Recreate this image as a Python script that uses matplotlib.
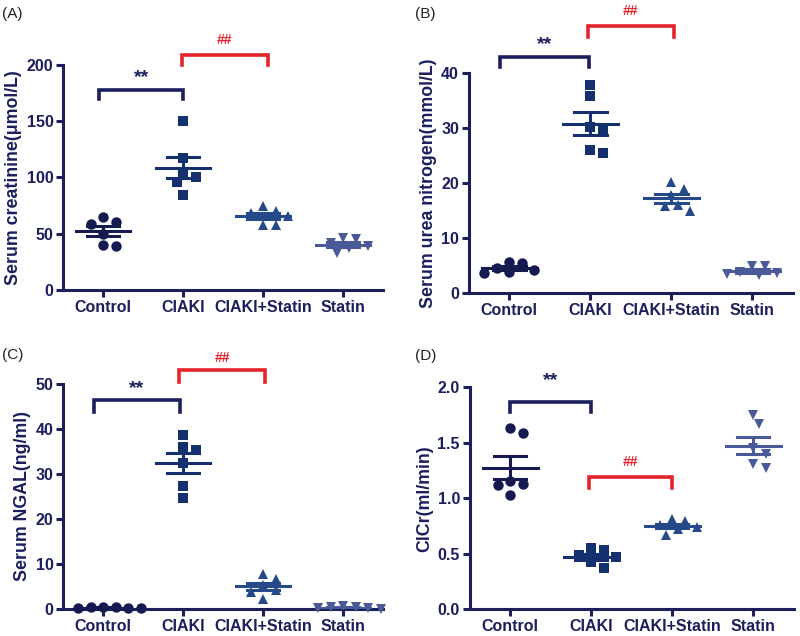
import numpy as np
import matplotlib
matplotlib.use('Agg')
import matplotlib.pyplot as plt

# ---------------- data ----------------
groups = ['Control', 'CIAKI', 'CIAKI+Statin', 'Statin']

creatinine = [
    [65, 60, 59, 50, 40, 39],
    [150, 117, 104, 100, 96, 84],
    [75, 70, 68, 66, 58, 58],
    [46, 45, 42, 39, 37, 33],
]
urea_nitrogen = [
    [5.7, 5.4, 4.5, 4.2, 3.8, 3.6],
    [37.8, 35.8, 30.2, 29.5, 26.0, 25.4],
    [20.2, 18.9, 17.8, 16.0, 15.8, 14.9],
    [5.0, 4.9, 3.9, 3.7, 3.4, 3.3],
]
ngal = [
    [0.6, 0.5, 0.4, 0.3, 0.2, 0.2],
    [38.7, 36.0, 35.2, 32.5, 27.2, 24.7],
    [7.9, 6.8, 5.3, 4.3, 3.9, 2.3],
    [0.7, 0.6, 0.4, 0.3, 0.2, 0.1],
]
clcr = [
    [1.63, 1.59, 1.16, 1.13, 1.12, 1.03],
    [0.55, 0.53, 0.49, 0.47, 0.43, 0.37],
    [0.81, 0.80, 0.76, 0.74, 0.72, 0.67],
    [1.75, 1.67, 1.45, 1.40, 1.31, 1.27],
]

ylabels = ['Serum creatinine(\u03bcmol/L)', 'Serum urea nitrogen(mmol/L)',
           'Serum NGAL(ng/ml)', 'ClCr(ml/min)']
panel_tags = ['(A)', '(B)', '(C)', '(D)']
ylims = [200, 40, 50, 2.0]
ysteps = [50, 10, 10, 0.5]

# significance brackets: (x1, x2, y_top, y_leg, label_y)
star_brackets = [(-0.05, 1.0, 178, 170, 189),
                 (-0.12, 0.98, 42.9, 41.1, 45.2),
                 (-0.12, 0.96, 46.4, 43.8, 48.8),
                 (0.0, 1.0, 1.87, 1.78, 2.06)]
hash_brackets = [(0.98, 2.06, 209, 200, 222),
                 (0.97, 2.03, 48.5, 46.5, 51.3),
                 (0.95, 2.02, 52.9, 50.4, 55.6),
                 (0.98, 2.0, 1.19, 1.09, 1.33)]

# ---------------- style ----------------
plt.rcParams['font.family'] = ['Liberation Sans', 'DejaVu Sans']
navy = '#1b1f5c'
red = '#e5232b'
colors = ['#151a50', '#14306f', '#26498a', '#4a5a98']
markers = ['o', 's', '^', 'v']
msize = 7.5

positions = [
    [0.079, 0.544, 0.400, 0.354],
    [0.586, 0.539, 0.405, 0.346],
    [0.079, 0.042, 0.400, 0.355],
    [0.587, 0.042, 0.405, 0.349],
]
tag_pos = [(0.002, 0.978), (0.519, 0.978), (0.002, 0.442), (0.519, 0.44)]

fig = plt.figure(figsize=(8.0, 6.36), dpi=100)


def swarm_offsets(ax, x0, vals, diam_px):
    """Simple beeswarm: spread overlapping points horizontally (display px)."""
    tr = ax.transData
    ys = np.array([tr.transform((x0, v))[1] for v in vals])
    px_per_x = tr.transform((1, 0))[0] - tr.transform((0, 0))[0]
    order = np.argsort(-ys)
    placed = []
    offs = np.zeros(len(vals))
    step = diam_px * 0.6
    for i in order:
        cands = [0.0]
        for n in range(1, 12):
            cands += [n * step, -n * step]
        for c in cands:
            ok = True
            for (px, py) in placed:
                if np.hypot(px - c, py - ys[i]) < diam_px * 1.0:
                    ok = False
                    break
            if ok:
                break
        placed.append((c, ys[i]))
        offs[i] = c / px_per_x
    return offs


datasets = [creatinine, urea_nitrogen, ngal, clcr]

for p in range(4):
    ax = fig.add_axes(positions[p])
    data = datasets[p]
    ax.set_xlim(-0.5, 3.5)
    ax.set_ylim(0, ylims[p])
    diam_px = msize * 100 / 72
    for g in range(4):
        vals = np.array(data[g], dtype=float)
        offs = swarm_offsets(ax, g, vals, diam_px)
        ax.plot(g + offs, vals, linestyle='none', marker=markers[g],
                markersize=msize, color=colors[g], markeredgewidth=0,
                clip_on=False, zorder=3)
        mean = vals.mean()
        sem = vals.std(ddof=1) / np.sqrt(len(vals))
        ax.plot([g - 0.34, g + 0.34], [mean, mean], color=colors[g], lw=2.2, zorder=4)
        ax.plot([g, g], [mean - sem, mean + sem], color=colors[g], lw=2.2, zorder=4)
        for yy in (mean - sem, mean + sem):
            ax.plot([g - 0.2, g + 0.2], [yy, yy], color=colors[g], lw=2.2, zorder=4)

    # brackets
    for (x1, x2, yt, yl, ty), col, lab in ((star_brackets[p], navy, '**'),
                                           (hash_brackets[p], red, '##')):
        ax.plot([x1, x1, x2, x2], [yl, yt, yt, yl], color=col, lw=2.6,
                clip_on=False, solid_joinstyle='miter')
        ax.text((x1 + x2) / 2, ty, lab, color=col, ha='center', va='center',
                fontsize=14 if lab == '**' else 10, fontweight='bold', clip_on=False)

    ax.spines['top'].set_visible(False)
    ax.spines['right'].set_visible(False)
    for s in ('left', 'bottom'):
        ax.spines[s].set_color(navy)
        ax.spines[s].set_linewidth(2.2)
    ax.set_xticks(range(4))
    ax.set_xticklabels(groups)
    yt = np.arange(0, ylims[p] + ysteps[p] / 2, ysteps[p])
    ax.set_yticks(yt)
    if p == 3:
        ax.set_yticklabels(['%.1f' % v for v in yt])
    else:
        ax.set_yticklabels(['%d' % v for v in yt])
    ax.tick_params(axis='both', direction='out', length=5, width=2.2, color=navy,
                   labelcolor=navy, labelsize=11.5, pad=2)
    for lbl in ax.get_xticklabels() + ax.get_yticklabels():
        lbl.set_fontweight('bold')
    ax.set_ylabel(ylabels[p], fontsize=12.8, fontweight='bold', color=navy, labelpad=3)
    fig.text(tag_pos[p][0], tag_pos[p][1], panel_tags[p], fontsize=11,
             color='#222222', ha='left', va='center')

fig.savefig('out.png', dpi=100)
